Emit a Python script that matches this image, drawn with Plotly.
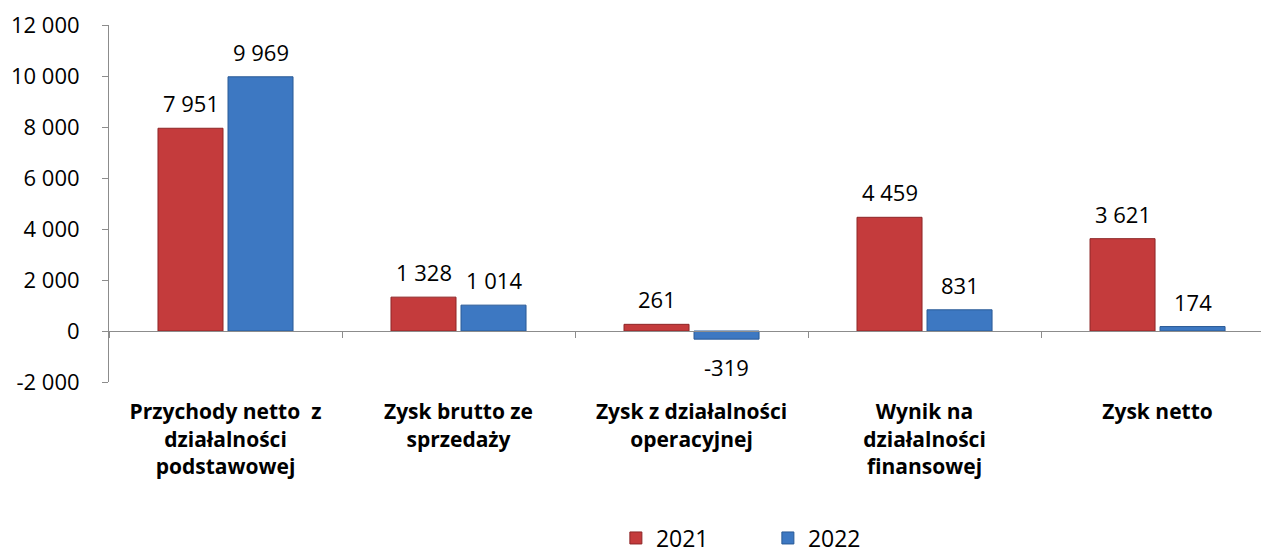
import plotly.graph_objects as go

categories = [
    "Przychody netto\u00a0 z<br>działalności<br>podstawowej",
    "Zysk brutto ze<br>sprzedaży",
    "Zysk z działalności<br>operacyjnej",
    "Wynik na<br>działalności<br>finansowej",
    "Zysk netto",
]
values_2021 = [7951, 1328, 261, 4459, 3621]
values_2022 = [9969, 1014, -319, 831, 174]
series_names = ["2021", "2022"]
y_tickvals = [-2000, 0, 2000, 4000, 6000, 8000, 10000, 12000]
y_ticktext = ["-2 000", "0", "2 000", "4 000", "6 000", "8 000", "10 000", "12 000"]

FONT = "Open Sans, sans-serif"
RED = "#C43B3C"
BLUE = "#3D78C2"
AXIS = "#8C8C8C"


def fmt(v):
    return f"{v:,}".replace(",", " ")


fig = go.Figure()
fig.add_trace(go.Bar(
    x=categories, y=values_2021, name=series_names[0],
    marker=dict(color=RED, line=dict(color="#8E2627", width=1)),
    hoverinfo="skip",
))
fig.add_trace(go.Bar(
    x=categories, y=values_2022, name=series_names[1],
    marker=dict(color=BLUE, line=dict(color="#2A5A96", width=1)),
    hoverinfo="skip",
))
# helper trace for the axis drawn at y = 0
fig.add_trace(go.Scatter(
    x=categories, y=[None] * len(categories), xaxis="x2", yaxis="y",
    showlegend=False, hoverinfo="skip", mode="markers",
))

annotations = []
for vals, shift in ((values_2021, -35), (values_2022, 35)):
    for c, v in zip(categories, vals):
        annotations.append(dict(
            x=c, y=v, xref="x", yref="y", text=fmt(v), showarrow=False,
            xshift=shift, yshift=25 if v >= 0 else -28, yanchor="middle",
            font=dict(family=FONT, size=22, color="#000000"),
        ))

ymin, ymax = -2000, 12000
zero_pos = (0 - ymin) / (ymax - ymin)

fig.update_layout(
    width=1261, height=557,
    margin=dict(l=109, r=0, t=25, b=175, autoexpand=False),
    plot_bgcolor="white", paper_bgcolor="white",
    barmode="group", bargap=0.399, bargroupgap=0.0714,
    font=dict(family=FONT, size=22, color="#000000"),
    annotations=annotations,
    showlegend=True,
    legend=dict(
        orientation="h", x=0.440, xanchor="left", y=-0.437, yanchor="middle",
        font=dict(family=FONT, size=23, color="#000000"),
        entrywidth=107, entrywidthmode="pixels",
        bgcolor="rgba(0,0,0,0)",
    ),
    xaxis=dict(
        type="category", categoryorder="array", categoryarray=categories,
        range=[-0.5, 4.444], showline=False, showgrid=False, zeroline=False,
        ticks="outside", ticklen=11, tickcolor="rgba(0,0,0,0)", automargin=False,
        tickfont=dict(family=FONT, size=21, color="#000000", weight="bold"),
    ),
    xaxis2=dict(
        type="category", categoryorder="array", categoryarray=categories,
        matches="x", overlaying="x", anchor="free", position=zero_pos,
        showline=True, linecolor=AXIS, linewidth=1, automargin=False,
        ticks="outside", tickson="boundaries", ticklen=6, tickcolor=AXIS,
        showticklabels=False, showgrid=False, zeroline=False,
    ),
    yaxis=dict(
        range=[ymin, ymax], tickvals=y_tickvals, ticktext=y_ticktext,
        showline=True, linecolor=AXIS, linewidth=1, automargin=False,
        ticks="outside", ticklen=6, tickcolor=AXIS,
        showgrid=False, zeroline=False, ticklabelstandoff=18,
        tickfont=dict(family=FONT, size=22, color="#000000"),
    ),
)

fig.write_html(
    "out.html",
    config={"displayModeBar": False},
    post_script="document.body.style.margin='0';",
)
